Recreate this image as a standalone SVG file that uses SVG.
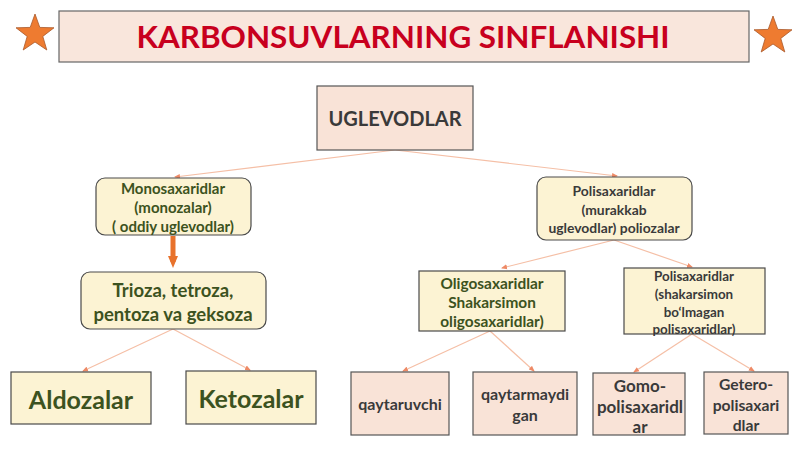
<svg xmlns="http://www.w3.org/2000/svg" width="800" height="449" viewBox="0 0 800 449">
<defs>
<style>
.t{font-family:Lato,"Open Sans","Liberation Sans",sans-serif;font-weight:bold;text-anchor:middle}
.peach{fill:#f9e3d7;stroke:#555;stroke-width:1.2}
.yel{fill:#fcf3d3;stroke:#4a4a4a;stroke-width:1.2}
.g{fill:#3c5220}
.d{fill:#3a3a3a}
.c{stroke:#f5bfa6;stroke-width:1.2;fill:none;marker-end:url(#ah)}
</style>
<marker id="ah" markerWidth="6" markerHeight="6" refX="5" refY="3" orient="auto" markerUnits="userSpaceOnUse">
<path d="M0,0.5 L6,3 L0,5.5 Z" fill="#ee8a66"/>
</marker>
<marker id="big" markerWidth="12" markerHeight="10" refX="6" refY="5" orient="auto" markerUnits="userSpaceOnUse">
<path d="M0,0 L12,5 L0,10 Z" fill="#e8722c"/>
</marker>
</defs>
<rect width="800" height="449" fill="#fff"/>
<g id="title">
<rect x="59" y="11" width="690" height="51" fill="#f9e6dc" stroke="#666" stroke-width="1.2"/>
<text x="403" y="48" class="t" font-size="31.4" fill="#c8001e">KARBONSUVLARNING SINFLANISHI</text>
</g>
<g id="star-left">
<polygon points="35,14 39.8,27.4 54,27.8 42.8,36.4 46.8,50 35,42 23.2,50 27.2,36.4 16,27.8 30.2,27.4" fill="#ee7b30" stroke="#a8582a" stroke-width="0.8"/>
</g>
<g id="star-right">
<polygon points="773,16 777.8,29.4 792,29.8 780.8,38.4 784.8,52 773,44 761.2,52 765.2,38.4 754,29.8 768.2,29.4" fill="#ee7b30" stroke="#a8582a" stroke-width="0.8"/>
</g>
<g id="connectors">
<line class="c" x1="395" y1="150" x2="175" y2="177"/>
<line class="c" x1="395" y1="150" x2="617" y2="176"/>
<line x1="173" y1="236" x2="173" y2="262" stroke="#e8722c" stroke-width="5" marker-end="url(#big)"/>
<line class="c" x1="614" y1="240" x2="502" y2="268"/>
<line class="c" x1="614" y1="240" x2="692" y2="267"/>
<line class="c" x1="173" y1="329" x2="83" y2="371"/>
<line class="c" x1="173" y1="329" x2="250" y2="370"/>
<line class="c" x1="490" y1="331" x2="403" y2="371"/>
<line class="c" x1="490" y1="331" x2="534" y2="371"/>
<line class="c" x1="692" y1="334" x2="634" y2="372"/>
<line class="c" x1="692" y1="334" x2="754" y2="371"/>
</g>
<g id="uglevodlar">
<rect class="peach" x="317" y="86" width="156" height="64"/>
<text x="395" y="126" class="t d" font-size="20">UGLEVODLAR</text>
</g>
<g id="monosaxaridlar">
<rect class="yel" x="96" y="178" width="155" height="57" rx="9"/>
<text class="t g" font-size="15"><tspan x="173" y="194">Monosaxaridlar</tspan><tspan x="173" y="213">(monozalar)</tspan><tspan x="173" y="232">( oddiy uglevodlar)</tspan></text>
</g>
<g id="polisaxaridlar">
<rect class="yel" x="537" y="177" width="155" height="63" rx="9"/>
<text class="t d" font-size="13.9"><tspan x="614" y="196">Polisaxaridlar</tspan><tspan x="614" y="215">(murakkab</tspan><tspan x="614" y="233">uglevodlar) poliozalar</tspan></text>
</g>
<g id="trioza">
<rect class="yel" x="81" y="272" width="185" height="57" rx="9"/>
<text class="t g" font-size="18.5"><tspan x="173" y="297">Trioza, tetroza,</tspan><tspan x="173" y="321">pentoza va geksoza</tspan></text>
</g>
<g id="oligosaxaridlar">
<rect class="yel" x="419" y="271" width="146" height="60"/>
<text class="t g" font-size="15.4"><tspan x="492" y="289">Oligosaxaridlar</tspan><tspan x="492" y="308">Shakarsimon</tspan><tspan x="492" y="327">oligosaxaridlar)</tspan></text>
</g>
<g id="polisaxaridlar2">
<rect class="yel" x="624" y="268" width="141" height="66"/>
<text class="t d" font-size="13.4"><tspan x="694" y="281">Polisaxaridlar</tspan><tspan x="694" y="299">(shakarsimon</tspan><tspan x="694" y="317">bo‘lmagan</tspan><tspan x="694" y="334">polisaxaridlar)</tspan></text>
</g>
<g id="aldozalar">
<rect class="yel" x="11" y="372" width="140" height="52"/>
<text x="81" y="409" class="t g" font-size="25">Aldozalar</text>
</g>
<g id="ketozalar">
<rect class="yel" x="186" y="371" width="130" height="53"/>
<text x="251" y="408" class="t g" font-size="25">Ketozalar</text>
</g>
<g id="qaytaruvchi">
<rect class="peach" x="351" y="372" width="98" height="63"/>
<text x="400" y="410" class="t d" font-size="16">qaytaruvchi</text>
</g>
<g id="qaytarmaydigan">
<rect class="peach" x="473" y="372" width="104" height="63"/>
<text class="t d" font-size="16"><tspan x="525" y="400">qaytarmaydi</tspan><tspan x="525" y="421">gan</tspan></text>
</g>
<g id="gomo">
<rect class="peach" x="593" y="373" width="92" height="62"/>
<text class="t d" font-size="17"><tspan x="640" y="392">Gomo-</tspan><tspan x="640" y="413">polisaxaridl</tspan><tspan x="640" y="433">ar</tspan></text>
</g>
<g id="getero">
<rect class="peach" x="704" y="372" width="84" height="62"/>
<text class="t d" font-size="15.7"><tspan x="746" y="390">Getero-</tspan><tspan x="746" y="411">polisaxari</tspan><tspan x="746" y="431">dlar</tspan></text>
</g>
</svg>
